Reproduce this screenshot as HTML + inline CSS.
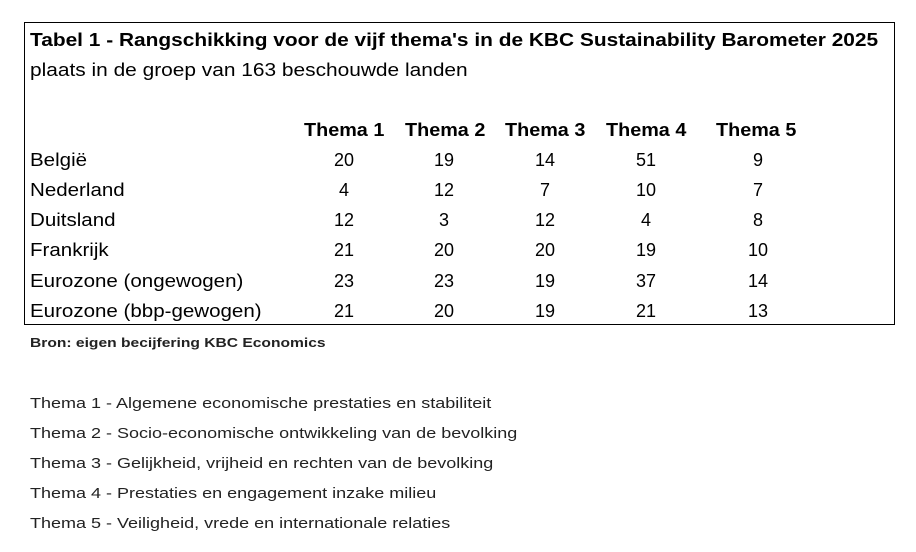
<!DOCTYPE html>
<html><head><meta charset="utf-8"><style>
body{margin:0;width:916px;height:552px;background:#fff;position:relative;font-family:"Liberation Sans",sans-serif;color:#000;overflow:hidden}
.box{position:absolute;left:24px;top:22px;width:871px;height:303px;border:1px solid #000;box-sizing:border-box}
.t{position:absolute;white-space:nowrap;line-height:1;transform-origin:left center}
.h{font-weight:bold;font-size:18px;transform:scaleX(1.1)}
.n{font-size:18px;width:60px;text-align:center}
.r{font-size:18px;left:30px;transform:scaleX(1.14)}
.leg{font-size:15px;left:30px;color:#222;transform:scaleX(1.2)}
</style></head><body>
<div class="box"></div>
<div class="t" style="left:30px;top:31px;font-size:18px;font-weight:bold;transform:scaleX(1.16)">Tabel 1 - Rangschikking voor de vijf thema's in de KBC Sustainability Barometer 2025</div>
<div class="t" style="left:30px;top:61px;font-size:18px;transform:scaleX(1.16)">plaats in de groep van 163 beschouwde landen</div>
<div class="t h" style="left:304px;top:121px">Thema 1</div>
<div class="t h" style="left:405px;top:121px">Thema 2</div>
<div class="t h" style="left:505px;top:121px">Thema 3</div>
<div class="t h" style="left:606px;top:121px">Thema 4</div>
<div class="t h" style="left:716px;top:121px">Thema 5</div>

<div class="t r" style="top:151px">België</div>
<div class="t r" style="top:181px">Nederland</div>
<div class="t r" style="top:211px">Duitsland</div>
<div class="t r" style="top:241px">Frankrijk</div>
<div class="t r" style="top:272px">Eurozone (ongewogen)</div>
<div class="t r" style="top:302px">Eurozone (bbp-gewogen)</div>

<div class="t n" style="left:314px;top:151px">20</div><div class="t n" style="left:414px;top:151px">19</div><div class="t n" style="left:515px;top:151px">14</div><div class="t n" style="left:616px;top:151px">51</div><div class="t n" style="left:728px;top:151px">9</div>
<div class="t n" style="left:314px;top:181px">4</div><div class="t n" style="left:414px;top:181px">12</div><div class="t n" style="left:515px;top:181px">7</div><div class="t n" style="left:616px;top:181px">10</div><div class="t n" style="left:728px;top:181px">7</div>
<div class="t n" style="left:314px;top:211px">12</div><div class="t n" style="left:414px;top:211px">3</div><div class="t n" style="left:515px;top:211px">12</div><div class="t n" style="left:616px;top:211px">4</div><div class="t n" style="left:728px;top:211px">8</div>
<div class="t n" style="left:314px;top:241px">21</div><div class="t n" style="left:414px;top:241px">20</div><div class="t n" style="left:515px;top:241px">20</div><div class="t n" style="left:616px;top:241px">19</div><div class="t n" style="left:728px;top:241px">10</div>
<div class="t n" style="left:314px;top:272px">23</div><div class="t n" style="left:414px;top:272px">23</div><div class="t n" style="left:515px;top:272px">19</div><div class="t n" style="left:616px;top:272px">37</div><div class="t n" style="left:728px;top:272px">14</div>
<div class="t n" style="left:314px;top:302px">21</div><div class="t n" style="left:414px;top:302px">20</div><div class="t n" style="left:515px;top:302px">19</div><div class="t n" style="left:616px;top:302px">21</div><div class="t n" style="left:728px;top:302px">13</div>

<div class="t" style="left:30px;top:336px;font-size:13px;font-weight:bold;color:#222;transform:scaleX(1.2)">Bron: eigen becijfering KBC Economics</div>

<div class="t leg" style="top:396px">Thema 1 - Algemene economische prestaties en stabiliteit</div>
<div class="t leg" style="top:426px">Thema 2 - Socio-economische ontwikkeling van de bevolking</div>
<div class="t leg" style="top:456px">Thema 3 - Gelijkheid, vrijheid en rechten van de bevolking</div>
<div class="t leg" style="top:486px">Thema 4 - Prestaties en engagement inzake milieu</div>
<div class="t leg" style="top:516px">Thema 5 - Veiligheid, vrede en internationale relaties</div>
</body></html>
